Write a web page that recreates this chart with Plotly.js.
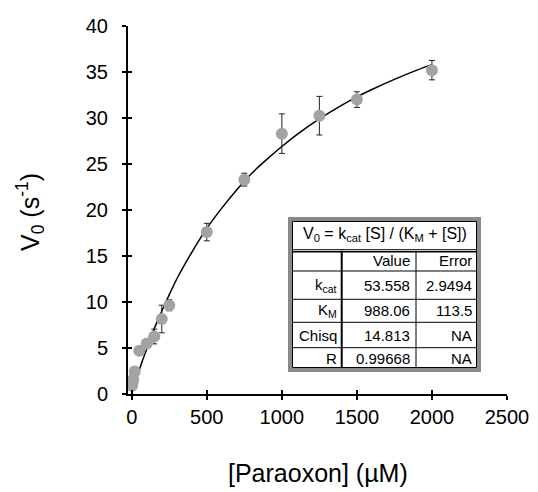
<!DOCTYPE html>
<html>
<head>
<meta charset="utf-8">
<script src="https://cdn.plot.ly/plotly-3.0.1.min.js"></script>
<style>html,body{margin:0;padding:0;background:#fff;}#chart{width:538px;height:492px;}</style>
</head>
<body>
<div id="chart"></div>
<script>
// Measured data: substrate concentration (µM) and initial velocity V0 (s^-1)
var paraoxon = [2, 5, 10, 20, 50, 100, 150, 200, 250, 500, 750, 1000, 1250, 1500, 2000];
var v0 = [0.9, 1.2, 1.6, 2.45, 4.7, 5.5, 6.25, 8.15, 9.65, 17.6, 23.3, 28.3, 30.25, 32.0, 35.2];
var v0Err = [0.2, 0.2, 0.2, 0.3, 0.3, 0.3, 0.8, 1.5, 0.6, 0.95, 0.7, 2.15, 2.1, 0.85, 1.05];

// Fitted curve
var fitX = [0, 25, 50, 75, 100, 150, 200, 250, 300, 400, 500, 600, 700, 800, 900, 1000, 1100, 1250, 1400, 1500, 1600, 1750, 1900, 2000];
var fitY = [0, 1.3, 2.6, 3.8, 4.9, 7.1, 9.0, 10.8, 12.5, 15.4, 18.0, 20.2, 22.2, 24.0, 25.5, 26.9, 28.2, 29.9, 31.4, 32.3, 33.1, 34.2, 35.2, 35.8];

// Axis ticks
var xTicks = [0, 500, 1000, 1500, 2000, 2500];
var yTicks = [0, 5, 10, 15, 20, 25, 30, 35, 40];

// Inset table
var tableTitle = 'V<sub>0</sub> = k<sub>cat</sub> [S] / (K<sub>M</sub> + [S])';
var tableHeader = ['', 'Value', 'Error'];
var tableRowLabels = ['k<sub>cat</sub>', 'K<sub>M</sub>', 'Chisq', 'R'];
var tableValues = ['53.558', '988.06', '14.813', '0.99668'];
var tableErrors = ['2.9494', '113.5', 'NA', 'NA'];

var FONT = 'Liberation Sans, Arial, sans-serif';
var W = 538, H = 492, L = 128, R = 31, T = 26, B = 98;
var PW = W - L - R, PH = H - T - B;
function px(x) { return (x - L) / PW; }
function py(y) { return 1 - (y - T) / PH; }

var traces = [
  {
    x: fitX, y: fitY, type: 'scatter', mode: 'lines',
    line: {color: '#000', width: 1.5, shape: 'spline', smoothing: 1},
    hoverinfo: 'skip', showlegend: false
  },
  {
    x: paraoxon, y: v0, type: 'scatter', mode: 'markers',
    marker: {color: '#a3a3a3', size: 12, line: {width: 0}},
    error_y: {type: 'data', array: v0Err, visible: true, color: '#222', thickness: 1, width: 3},
    showlegend: false
  },
  { x: [], y: [], xaxis: 'x2', yaxis: 'y2', type: 'scatter', mode: 'markers', showlegend: false }
];

// Table geometry (pixels)
var colEdges = [290, 341.7, 416, 479];
var rowEdges = [219, 250.7, 271, 299.3, 322.3, 347.7, 370];

var shapes = [];
var annotations = [];
shapes.push({type: 'rect', xref: 'paper', yref: 'paper',
  x0: px(colEdges[0]), x1: px(colEdges[3]), y0: py(rowEdges[0]), y1: py(rowEdges[6]),
  fillcolor: '#fff', line: {color: '#8a8a8a', width: 4}});
shapes.push({type: 'rect', xref: 'paper', yref: 'paper',
  x0: px(colEdges[0] + 2.5), x1: px(colEdges[3] - 2.5), y0: py(rowEdges[0] + 2.5), y1: py(rowEdges[6] - 2.5),
  fillcolor: 'rgba(0,0,0,0)', line: {color: '#000', width: 1}});
// title separator (double line)
shapes.push({type: 'line', xref: 'paper', yref: 'paper',
  x0: px(colEdges[0] + 2.5), x1: px(colEdges[3] - 2.5), y0: py(rowEdges[1] - 1), y1: py(rowEdges[1] - 1),
  line: {color: '#000', width: 1}});
shapes.push({type: 'line', xref: 'paper', yref: 'paper',
  x0: px(colEdges[0] + 2.5), x1: px(colEdges[3] - 2.5), y0: py(rowEdges[1] + 1), y1: py(rowEdges[1] + 1),
  line: {color: '#000', width: 1.5}});
for (var r = 2; r < 6; r++) {
  shapes.push({type: 'line', xref: 'paper', yref: 'paper',
    x0: px(colEdges[0] + 2.5), x1: px(colEdges[3] - 2.5), y0: py(rowEdges[r]), y1: py(rowEdges[r]),
    line: {color: '#000', width: 1}});
}
shapes.push({type: 'line', xref: 'paper', yref: 'paper',
  x0: px(colEdges[1]), x1: px(colEdges[1]), y0: py(rowEdges[1]), y1: py(rowEdges[6] - 2.5),
  line: {color: '#000', width: 2}});
shapes.push({type: 'line', xref: 'paper', yref: 'paper',
  x0: px(colEdges[2]), x1: px(colEdges[2]), y0: py(rowEdges[1]), y1: py(rowEdges[6] - 2.5),
  line: {color: '#000', width: 1}});

var tf = {family: FONT, size: 15, color: '#000'};
annotations.push({xref: 'paper', yref: 'paper', x: px((colEdges[0] + colEdges[3]) / 2), y: py((rowEdges[0] + rowEdges[1]) / 2),
  text: tableTitle, showarrow: false, xanchor: 'center', yanchor: 'middle', font: {family: FONT, size: 16, color: '#000'}});
for (var c = 1; c < 3; c++) {
  annotations.push({xref: 'paper', yref: 'paper', x: px(colEdges[c + 1] - (c === 2 ? 5 : 4)), y: py((rowEdges[1] + rowEdges[2]) / 2),
    text: tableHeader[c], showarrow: false, xanchor: 'right', yanchor: 'middle', font: tf});
}
for (var i = 0; i < tableRowLabels.length; i++) {
  var yc = py((rowEdges[i + 2] + rowEdges[i + 3]) / 2);
  annotations.push({xref: 'paper', yref: 'paper', x: px(colEdges[1] - 3), y: yc,
    text: tableRowLabels[i], showarrow: false, xanchor: 'right', yanchor: 'middle', font: tf});
  annotations.push({xref: 'paper', yref: 'paper', x: px(colEdges[2] - 4), y: yc,
    text: tableValues[i], showarrow: false, xanchor: 'right', yanchor: 'middle', font: tf});
  annotations.push({xref: 'paper', yref: 'paper', x: px(colEdges[3] - 5), y: yc,
    text: tableErrors[i], showarrow: false, xanchor: 'right', yanchor: 'middle', font: tf});
}

// Axis titles
annotations.push({xref: 'paper', yref: 'paper', x: px(30), y: py(212), textangle: -90,
  text: 'V<sub>0</sub>\u00a0(s<sup>-1</sup>)', showarrow: false, xanchor: 'center', yanchor: 'middle',
  font: {family: FONT, size: 25, color: '#000'}});
annotations.push({xref: 'paper', yref: 'paper', x: px(318), y: py(473),
  text: '[Paraoxon] (µM)', showarrow: false, xanchor: 'center', yanchor: 'middle',
  font: {family: FONT, size: 25, color: '#000'}});

var axisCommon = {showgrid: false, zeroline: false, showline: true, linecolor: '#000', linewidth: 2,
  ticks: 'outside', ticklen: 4, tickwidth: 1.5, tickcolor: '#000',
  tickfont: {family: FONT, size: 20, color: '#000'}, fixedrange: true};

var layout = {
  width: W, height: H,
  margin: {l: L, r: R, t: T, b: B, pad: 0},
  paper_bgcolor: '#fff', plot_bgcolor: '#fff',
  showlegend: false,
  xaxis: Object.assign({}, axisCommon, {range: [-25, 2500], tickmode: 'array', tickvals: xTicks,
    ticktext: xTicks.map(String), ticklabelstandoff: 0}),
  yaxis: Object.assign({}, axisCommon, {range: [0, 40], tickmode: 'array', tickvals: yTicks,
    ticktext: yTicks.map(String), ticklabelstandoff: 10}),
  xaxis2: {overlaying: 'x', anchor: 'y2', side: 'bottom', range: [-25, 2500], tickmode: 'array', tickvals: xTicks,
    ticks: 'inside', ticklen: 4, tickwidth: 1.5, tickcolor: '#000', showticklabels: false,
    showgrid: false, zeroline: false, showline: false, fixedrange: true},
  yaxis2: {overlaying: 'y', anchor: 'x2', side: 'left', range: [0, 40], tickmode: 'array', tickvals: yTicks,
    ticks: 'inside', ticklen: 4, tickwidth: 1.5, tickcolor: '#000', showticklabels: false,
    showgrid: false, zeroline: false, showline: false, fixedrange: true},
  shapes: shapes,
  annotations: annotations
};

Plotly.newPlot('chart', traces, layout, {displayModeBar: false, staticPlot: true});
</script>
</body>
</html>
